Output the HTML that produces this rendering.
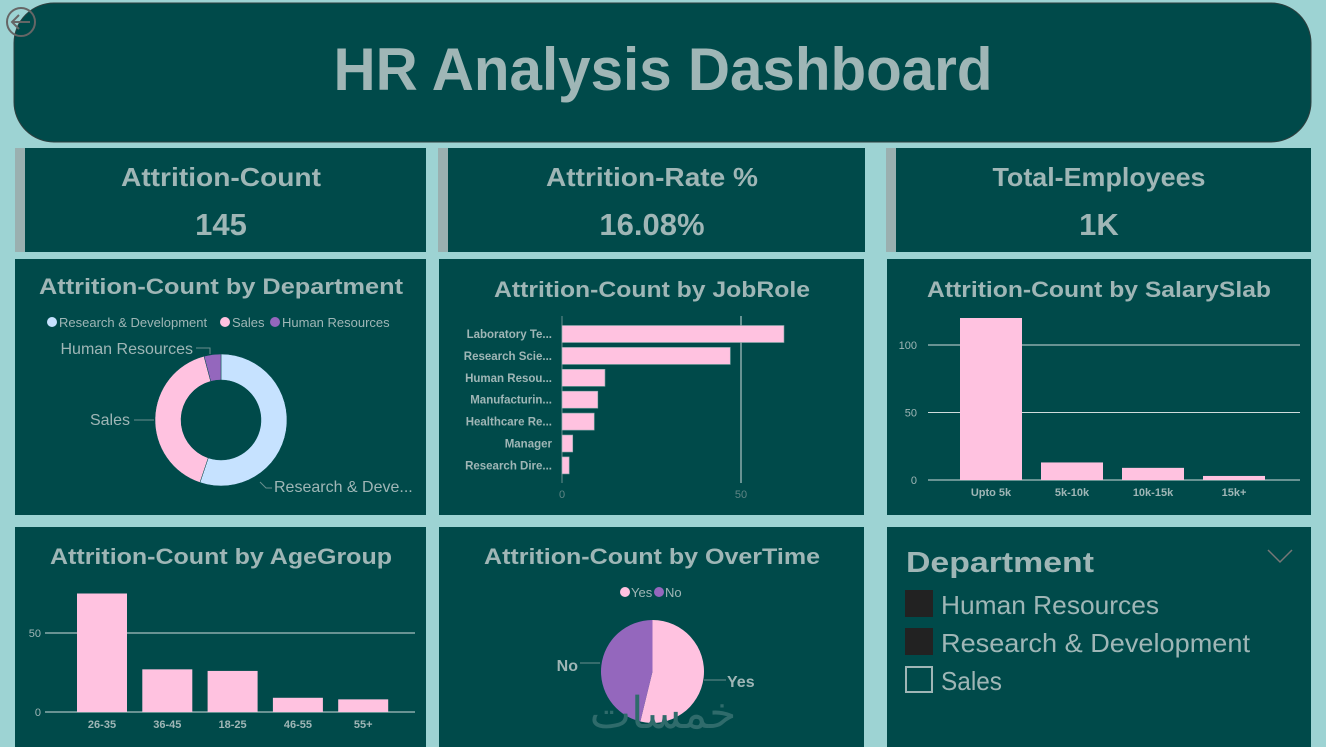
<!DOCTYPE html>
<html><head><meta charset="utf-8"><style>
html,body{margin:0;padding:0;background:#9dd3d3;}
svg{display:block;font-family:"Liberation Sans","DejaVu Sans",sans-serif;}
</style></head><body>
<svg id="s" width="1326" height="747" viewBox="0 0 1326 747" xmlns="http://www.w3.org/2000/svg">
<rect x="0" y="0" width="1326" height="747" fill="#9dd3d3"/>
<rect x="14" y="3" width="1297" height="139" rx="40" fill="#004a4a" stroke="#2f3f3f" stroke-width="1"/>
<text x="663" y="90" text-anchor="middle" font-size="60" font-weight="bold" fill="#9fb6b6" textLength="659" lengthAdjust="spacingAndGlyphs">HR Analysis Dashboard</text>
<g><circle cx="21" cy="22" r="14" fill="none" stroke="#666" stroke-width="2"/><path d="M30 22H12M19 15l-7 7 7 7" fill="none" stroke="#666" stroke-width="2"/></g>

<g><rect x="15" y="148" width="411" height="104" fill="#004a4a"/><rect x="15" y="148" width="10" height="104" fill="#9ab0b0"/>
<text x="221" y="186" text-anchor="middle" font-size="26" font-weight="bold" fill="#9fb6b6" textLength="200" lengthAdjust="spacingAndGlyphs">Attrition-Count</text><text x="221" y="235" text-anchor="middle" font-size="31" font-weight="bold" fill="#9fb6b6">145</text></g>
<g><rect x="438" y="148" width="427" height="104" fill="#004a4a"/><rect x="438" y="148" width="10" height="104" fill="#9ab0b0"/>
<text x="652" y="186" text-anchor="middle" font-size="26" font-weight="bold" fill="#9fb6b6" textLength="212" lengthAdjust="spacingAndGlyphs">Attrition-Rate %</text><text x="652" y="235" text-anchor="middle" font-size="31" font-weight="bold" fill="#9fb6b6">16.08%</text></g>
<g><rect x="886" y="148" width="425" height="104" fill="#004a4a"/><rect x="886" y="148" width="10" height="104" fill="#9ab0b0"/>
<text x="1099" y="186" text-anchor="middle" font-size="26" font-weight="bold" fill="#9fb6b6" textLength="213" lengthAdjust="spacingAndGlyphs">Total-Employees</text><text x="1099" y="235" text-anchor="middle" font-size="31" font-weight="bold" fill="#9fb6b6">1K</text></g>

<rect x="15" y="259" width="411" height="256" fill="#004a4a"/>
<rect x="439" y="259" width="425" height="256" fill="#004a4a"/>
<rect x="887" y="259" width="424" height="256" fill="#004a4a"/>
<rect x="15" y="527" width="411" height="220" fill="#004a4a"/>
<rect x="439" y="527" width="425" height="220" fill="#004a4a"/>
<rect x="887" y="527" width="424" height="220" fill="#004a4a"/>

<text x="221" y="294" text-anchor="middle" font-size="22" font-weight="bold" fill="#9fb6b6" textLength="364" lengthAdjust="spacingAndGlyphs">Attrition-Count by Department</text>
<text x="652" y="297" text-anchor="middle" font-size="22" font-weight="bold" fill="#9fb6b6" textLength="316" lengthAdjust="spacingAndGlyphs">Attrition-Count by JobRole</text>
<text x="1099" y="297" text-anchor="middle" font-size="22" font-weight="bold" fill="#9fb6b6" textLength="344" lengthAdjust="spacingAndGlyphs">Attrition-Count by SalarySlab</text>
<text x="221" y="564" text-anchor="middle" font-size="22" font-weight="bold" fill="#9fb6b6" textLength="342" lengthAdjust="spacingAndGlyphs">Attrition-Count by AgeGroup</text>
<text x="652" y="564" text-anchor="middle" font-size="22" font-weight="bold" fill="#9fb6b6" textLength="336" lengthAdjust="spacingAndGlyphs">Attrition-Count by OverTime</text>

<g font-size="13" fill="#9fb6b6">
<circle cx="52" cy="322" r="5" fill="#c6e2ff"/><text x="59" y="327">Research &amp; Development</text>
<circle cx="225" cy="322" r="5" fill="#ffc2e0"/><text x="232" y="327">Sales</text>
<circle cx="275" cy="322" r="5" fill="#9467bd"/><text x="282" y="327">Human Resources</text>
</g>

<g>
<text x="906" y="572" font-size="29" font-weight="bold" fill="#9fb6b6" textLength="188" lengthAdjust="spacingAndGlyphs">Department</text>
<path d="M1268 550l12 12 12-12" fill="none" stroke="#777" stroke-width="1.5"/>
<g><rect x="905" y="590" width="28" height="27" fill="#222"/><text x="941" y="614" font-size="26" fill="#9fb6b6" textLength="218" lengthAdjust="spacingAndGlyphs">Human Resources</text></g>
<g><rect x="905" y="628" width="28" height="27" fill="#222"/><text x="941" y="652" font-size="26" fill="#9fb6b6" textLength="309" lengthAdjust="spacingAndGlyphs">Research &amp; Development</text></g>
<g><rect x="906" y="667" width="26" height="25" fill="none" stroke="#9fb6b6" stroke-width="2"/><text x="941" y="690" font-size="26" fill="#9fb6b6" textLength="61" lengthAdjust="spacingAndGlyphs">Sales</text></g>
</g>
<g id="charts"></g>
<text x="663" y="728" text-anchor="middle" font-family="'Noto Sans CJK SC',sans-serif" font-size="44" fill="#2f6b6b">خمسات</text>
</svg>
<script>
const deptNames=["Research & Development","Sales","Human Resources"];
const deptValues=[80,59,6];
const jobRoles=["Laboratory Te...","Research Scie...","Human Resou...","Manufacturin...","Healthcare Re...","Manager","Research Dire..."];
const jobValues=[62,47,12,10,9,3,2];
const jobTicks=[0,50];
const salaryCats=["Upto 5k","5k-10k","10k-15k","15k+"];
const salaryValues=[120,13,9,3];
const salaryTicks=[0,50,100];
const ageCats=["26-35","36-45","18-25","46-55","55+"];
const ageValues=[75,27,26,9,8];
const ageTicks=[0,50];
const otCats=["Yes","No"];
const otValues=[78,67];

const NS="http://www.w3.org/2000/svg";
const G=document.getElementById('charts');
function mk(t,a,p){const e=document.createElementNS(NS,t);for(const k in a)e.setAttribute(k,a[k]);(p||G).appendChild(e);return e;}
const TXT="#9fb6b6",PINK="#ffc2e0";
function arc(cx,cy,r0,r1,a0,a1){const p=(r,a)=>[cx+r*Math.sin(a),cy-r*Math.cos(a)];const L=a1-a0>Math.PI?1:0;
 const [x1,y1]=p(r1,a0),[x2,y2]=p(r1,a1);
 if(r0===0)return `M${cx} ${cy}L${x1} ${y1}A${r1} ${r1} 0 ${L} 1 ${x2} ${y2}Z`;
 const [x3,y3]=p(r0,a1),[x4,y4]=p(r0,a0);
 return `M${x1} ${y1}A${r1} ${r1} 0 ${L} 1 ${x2} ${y2}L${x3} ${y3}A${r0} ${r0} 0 ${L} 0 ${x4} ${y4}Z`;}

(function(){const cx=221,cy=420,R=66,r=40,cols=["#c6e2ff","#ffc2e0","#9467bd"];
 const tot=deptValues.reduce((a,b)=>a+b,0);let a=0;
 const lab=[[274,492,"start","Research & Deve..."],[130,425,"end","Sales"],[193,354,"end","Human Resources"]];
 deptValues.forEach((v,i)=>{const a1=a+v/tot*2*Math.PI;const p=mk('path',{d:arc(cx,cy,r,R,a,a1),fill:cols[i],stroke:"#004a4a","stroke-width":0.5});
  
  
  const t=mk('text',{x:lab[i][0],y:lab[i][1],"text-anchor":lab[i][2],"font-size":16,fill:TXT});t.textContent=i==2?deptNames[2]:lab[i][3];
  
  
  a=a1;});
 mk('path',{d:"M260 482l6 6h6M134 420h20M196 348h14v6",fill:"none",stroke:"#6a8f8f","stroke-width":1});
})();

(function(){const x0=562,sx=(741-562)/50,y0=334,step=21.9,h=17;
 jobTicks.forEach(t=>{const x=x0+t*sx;mk('line',{x1:x,x2:x,y1:316,y2:483,stroke:t?"#cfdcdc":"#6a8f8f","stroke-width":1});
  const tx=mk('text',{x:x,y:498,"text-anchor":"middle","font-size":11,fill:"#5f8585"});tx.textContent=t;
  
  });
 jobValues.forEach((v,i)=>{const y=y0+i*step;const b=mk('rect',{x:x0,y:y-h/2,width:v*sx,height:h,fill:PINK,stroke:"#8aa","stroke-width":0.6});
  
  
  const t=mk('text',{x:552,y:y+4,"text-anchor":"end","font-size":11.5,"font-weight":"bold",fill:TXT});t.textContent=jobRoles[i];
  
  });
})();

function cols(cats,vals,ticks,o){const sy=(o.y0-o.y50)/50;
 ticks.forEach(t=>{const y=o.y0-t*sy;mk('line',{x1:o.xl,x2:o.xr,y1:y,y2:y,stroke:"#cfdcdc","stroke-width":1});
  const tx=mk('text',{x:o.tx,y:y+4,"text-anchor":"end","font-size":11,fill:TXT});tx.textContent=t;
  
  });
 vals.forEach((v,i)=>{const x=o.b0+i*o.band;const b=mk('rect',{x:x,y:o.y0-v*sy,width:o.bw,height:v*sy,fill:PINK});
  
  
  const t=mk('text',{x:x+o.bw/2,y:o.y0+16,"text-anchor":"middle","font-size":11,"font-weight":"bold",fill:TXT});t.textContent=cats[i];
  
  });
}
cols(salaryCats,salaryValues,salaryTicks,{n:'salary',y0:480,y50:412.5,xl:928,xr:1300,tx:917,b0:960,band:81,bw:62});
cols(ageCats,ageValues,ageTicks,{n:'age',y0:712,y50:633,xl:45,xr:415,tx:41,b0:77,band:65.3,bw:50});

(function(){const cx=652.5,cy=671.5,R=51.5,c=[PINK,"#9467bd"];const tot=otValues.reduce((a,b)=>a+b,0);let a=0;
 mk('circle',{cx:625,cy:592,r:5,fill:PINK});let t=mk('text',{x:631,y:597,"font-size":13,fill:TXT});t.textContent=otCats[0];
 mk('circle',{cx:659,cy:592,r:5,fill:"#9467bd"});t=mk('text',{x:665,y:597,"font-size":13,fill:TXT});t.textContent=otCats[1];
 otValues.forEach((v,i)=>{const a1=a+v/tot*2*Math.PI;const p=mk('path',{d:arc(cx,cy,0,R,a,a1),fill:c[i]});
  
  a=a1;});
 mk('path',{d:"M704 680h22M580 663h20",fill:"none",stroke:"#6a8f8f","stroke-width":1});
 t=mk('text',{x:727,y:687,"font-size":16,"font-weight":"bold",fill:TXT});t.textContent=otCats[0];
 t=mk('text',{x:578,y:671,"text-anchor":"end","font-size":16,"font-weight":"bold",fill:TXT});t.textContent=otCats[1];
})();
</script>
</body></html>
